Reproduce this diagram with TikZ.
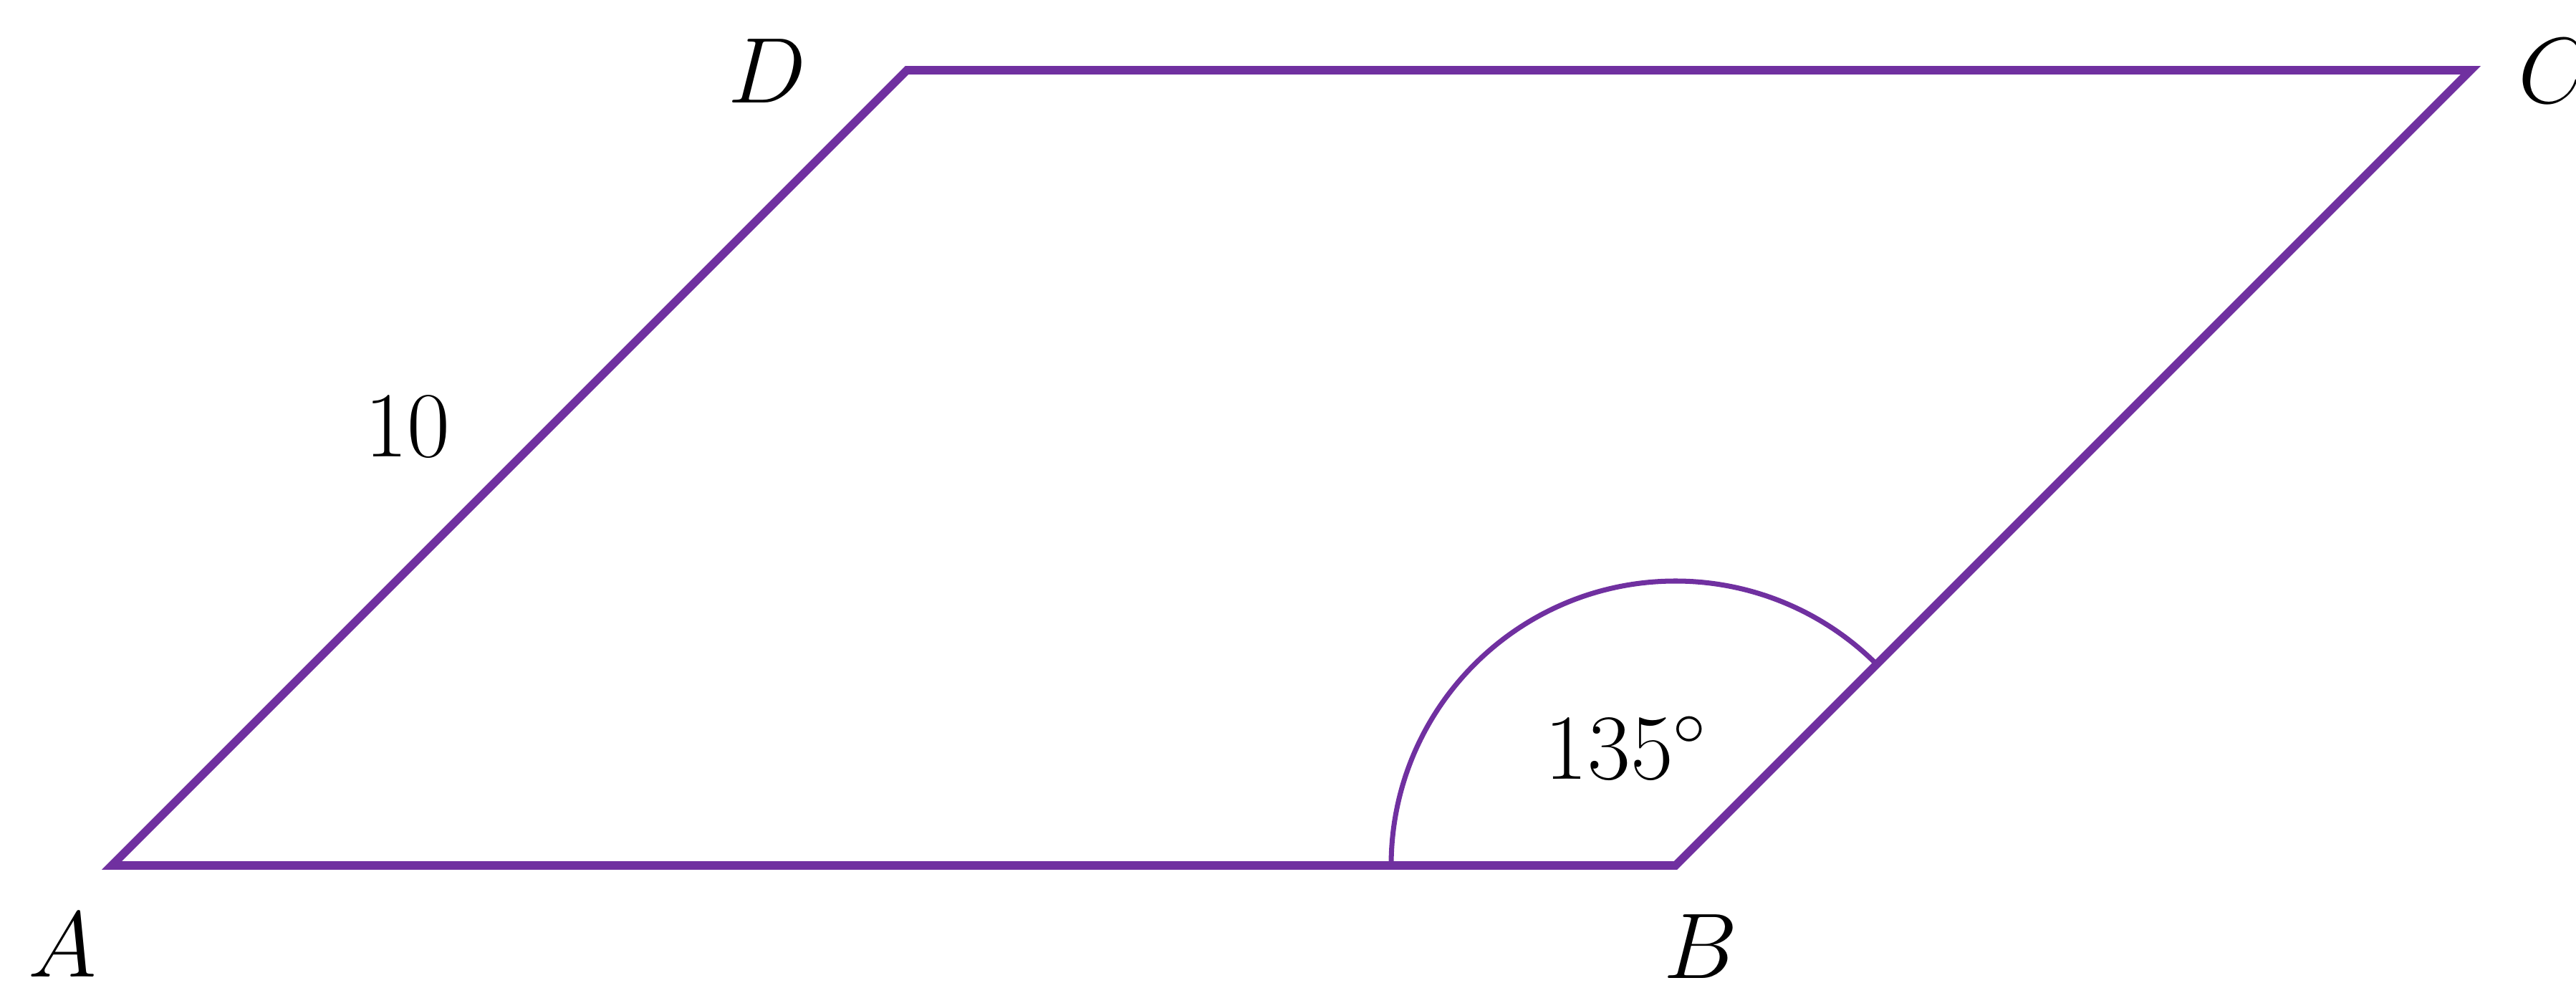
\RequirePackage{fix-cm}
\documentclass[tikz,border=0pt]{standalone}
\usepackage{amsmath}
\usepackage{tikz}
\usetikzlibrary{calc, positioning}
\definecolor{edgepurple}{RGB}{112,48,160}

\begin{document}
\begin{tikzpicture}[
    % Styles for the figure
    side/.style={edgepurple, line width=3.3pt, line join=miter},
    angarc/.style={edgepurple, line width=2pt},
    lbl/.style={font=\fontsize{37}{44}\selectfont, inner sep=0pt}
]
    \useasboundingbox (0,0) rectangle (35.96,13.85);

    % --- Vertices ---
    \coordinate (A) at (1.56,1.77);
    \coordinate (B) at (23.39,1.77);
    \coordinate (C) at (34.49,12.87);
    \coordinate (D) at (12.66,12.87);

    % --- Parallelogram ---
    \draw[side] (A) -- (B) -- (C) -- (D) -- cycle;

    % --- Angle at B ---
    \draw[angarc] (B) ++(180:3.97) arc[start angle=180, end angle=45, radius=3.97];
    \node[lbl] (ang) at (22.70,3.41) {$135^\circ$};

    % --- Labels ---
    \node[lbl] (lA) at (0.87,0.66) {$A$};
    \node[lbl] (lB) at (23.74,0.64) {$B$};
    \node[lbl] (lC) at (35.66,12.86) {$C$};
    \node[lbl] (lD) at (10.71,12.86) {$D$};
    \node[lbl] (side) at (5.69,7.89) {$10$};
\end{tikzpicture}
\end{document}
